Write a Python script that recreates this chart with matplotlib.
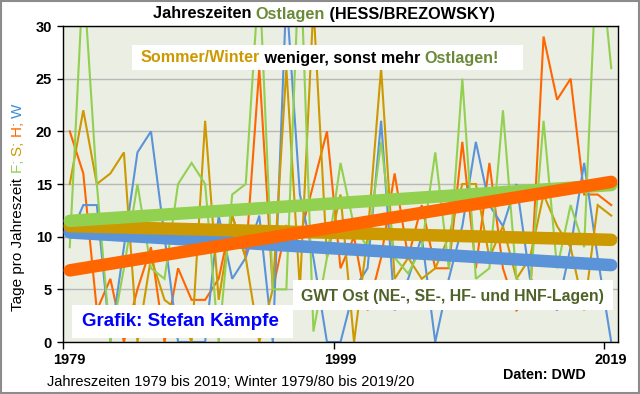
import matplotlib
matplotlib.use("Agg")
import matplotlib.pyplot as plt
from matplotlib.patches import Rectangle
import numpy as np

FONT = "Liberation Sans"
plt.rcParams['font.family'] = [FONT, 'DejaVu Sans']

years = list(range(1979, 2020))

# Frühling (F), Sommer (S), Herbst (H), Winter (W) – Tage mit Ostlagen
spring = [9, 35, 15, 0, 7, 15, 7, 6, 15, 17, 15, 0, 14, 15, 35, 5, 5, 38, 1, 8, 17,
          11, 9, 19, 8, 6.5, 9, 18, 7, 25, 6, 7, 22, 6, 5, 21, 7, 13, 9, 39, 26]
summer = [15, 22, 15, 16, 18, 0, 8, 4, 3, 0, 21, 4, 12, 8, 0, 5, 26, 5, 32, 8, 14,
          0, 10, 26, 6, 8, 6, 7, 10, 15, 15, 8, 11, 6, 8, 14, 11, 9, 3, 13, 12]
autumn = [20, 16, 3, 6, 0, 5, 9, 0, 7, 4, 4, 6, 12, 8, 26, 5, 11, 10, 15, 20, 7,
          10, 3, 8, 16, 8, 13, 7, 7, 19, 7, 17, 7, 3, 4, 29, 23, 25, 14, 14, 13]
winter = [10, 13, 13, 0, 9, 18, 20, 10, 0, 0, 0, 12, 6, 8, 12, 0, 33, 14, 8, 0, 0,
          5, 7, 21, 3, 6, 10, 0, 6, 11, 19, 13, 11, 15, 6, 5, 3, 9, 17, 8, 0]

# linear trend values read at 1979 and 2019
trend_start = {"F": 11.5, "S": 11.0, "H": 6.8, "W": 10.4}
trend_end = {"F": 14.9, "S": 9.7, "H": 15.2, "W": 7.3}

colors = {"F": "#92D050", "S": "#CC9900", "H": "#FF6600", "W": "#5B93D8"}
series = {"F": spring, "S": summer, "H": autumn, "W": winter}

W_PX, H_PX = 640, 394
fig = plt.figure(figsize=(W_PX / 100, H_PX / 100), dpi=100)
fig.patch.set_facecolor("white")

ax_l, ax_r, ax_t, ax_b = 63, 618, 26, 342
ax = fig.add_axes([ax_l / W_PX, 1 - ax_b / H_PX, (ax_r - ax_l) / W_PX, (ax_b - ax_t) / H_PX])
ax.set_facecolor("#EBEEE3")

for k in ["H", "W", "S", "F"]:
    ax.plot(years, series[k], color=colors[k], lw=1.5, zorder=2, solid_joinstyle="miter")

for k in ["W", "S", "F", "H"]:
    ax.plot([years[0], years[-1]], [trend_start[k], trend_end[k]], color=colors[k],
            lw=9, solid_capstyle="round", zorder=3)

ax.set_xlim(1978.5, 2019.5)
ax.set_ylim(0, 30)
ax.set_yticks(range(0, 31, 5))
ax.yaxis.grid(True, color="#B8B8B8", lw=1)
ax.set_axisbelow(True)
ax.set_xticks([1979, 1999, 2019])
ax.set_xticks([1978.5, 1998.5, 2018.5], minor=True)
ax.tick_params(axis="x", which="major", length=0, pad=8)
ax.tick_params(axis="x", which="minor", length=5, width=1, direction="out")
ax.tick_params(axis="y", length=4, width=1, direction="out", pad=4)
for lab in ax.get_xticklabels() + ax.get_yticklabels():
    lab.set_fontweight("bold")
    lab.set_fontsize(10.5)
    lab.set_family(FONT)
for s in ax.spines.values():
    s.set_color("black")
    s.set_linewidth(1)

# figure border
fig.patches.append(Rectangle((0.002, 0.003), 0.996, 0.994, transform=fig.transFigure,
                             fill=False, edgecolor="#8C8C8C", lw=1.5, zorder=10))

def box(x0, y0, x1, y1):
    fig.patches.append(Rectangle((x0 / W_PX, 1 - y1 / H_PX), (x1 - x0) / W_PX, (y1 - y0) / H_PX,
                                 transform=fig.transFigure, facecolor="white",
                                 edgecolor="none", zorder=5))

renderer = fig.canvas.get_renderer()

def text_width(s, size, weight):
    t = fig.text(0, 0, s + "|", fontsize=size, weight=weight, family=FONT)
    w1 = t.get_window_extent(renderer).width
    t.remove()
    t = fig.text(0, 0, "|", fontsize=size, weight=weight, family=FONT)
    w2 = t.get_window_extent(renderer).width
    t.remove()
    return w1 - w2

def multicolor(xc, yc, pieces, size, weight, vertical=False):
    full = "".join(p for p, _ in pieces)
    total = text_width(full, size, weight)
    prefix = ""
    for s, c in pieces:
        off = text_width(prefix, size, weight) if prefix else 0.0
        if vertical:
            ypos = (H_PX - yc) - total / 2 + off
            fig.text(xc / W_PX, ypos / H_PX, s, color=c, fontsize=size, weight=weight,
                     family=FONT, rotation=90, ha="center", va="bottom", zorder=6)
        else:
            xpos = xc - total / 2 + off
            fig.text(xpos / W_PX, 1 - yc / H_PX, s, color=c, fontsize=size, weight=weight,
                     family=FONT, ha="left", va="center", zorder=6)
        prefix += s

OLIVE = "#6A8A3A"
DARK_OLIVE = "#4F6228"

multicolor(324, 14, [("Jahreszeiten ", "black"), ("Ostlagen", OLIVE),
                     (" (HESS/BREZOWSKY)", "black")], 11.7, "bold")

box(132, 45, 523, 70)
multicolor(320, 58, [("Sommer/Winter", "#CC9900"), (" weniger, sonst mehr ", "black"),
                     ("Ostlagen!", OLIVE)], 11.6, "bold")

box(293, 280, 613, 310)
multicolor(452, 296, [("GWT Ost (NE-, SE-, HF- und HNF-Lagen)", DARK_OLIVE)], 11.4, "bold")

box(72, 305, 293, 338)
multicolor(180, 322, [("Grafik: Stefan Kämpfe", "#0000FF")], 13.5, "bold")

multicolor(18, 207, [("Tage pro Jahreszeit ", "black"), ("F; ", colors["F"]),
                     ("S; ", colors["S"]), ("H; ", colors["H"]), ("W", "#3A8FD8")],
           11, "normal", vertical=True)

multicolor(231, 382, [("Jahreszeiten 1979 bis 2019; Winter 1979/80 bis 2019/20", "black")],
           10.5, "normal")
multicolor(544, 375, [("Daten: DWD", "black")], 10.3, "bold")

fig.savefig("out.png", dpi=100)
